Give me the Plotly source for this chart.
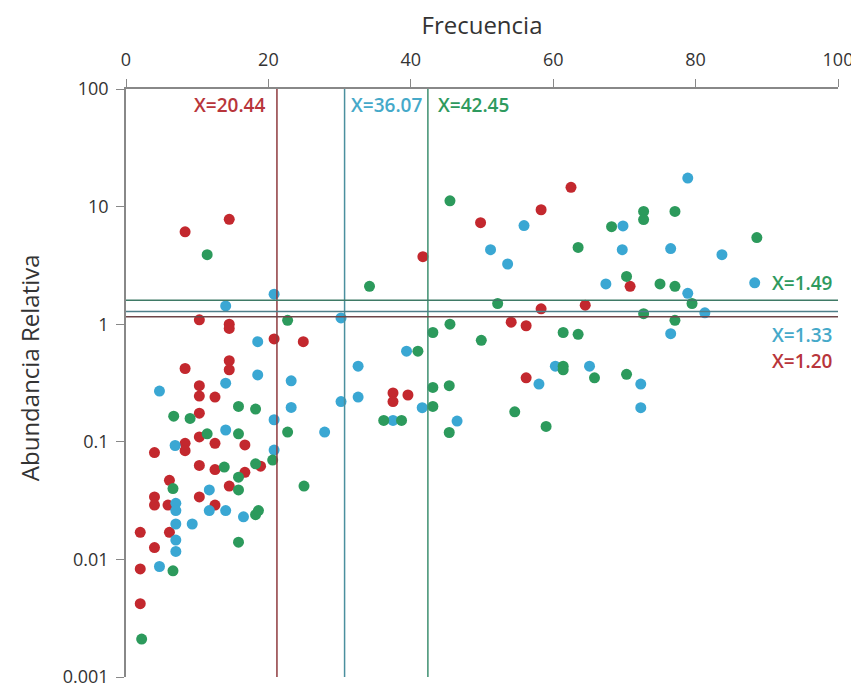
import plotly.graph_objects as go

# Red series
red_x = [8.3, 14.5, 41.7, 10.3, 14.5, 14.5, 20.8, 24.9, 8.3, 14.5, 14.5, 10.3, 10.3, 12.5,
         37.5, 37.5, 39.6, 10.3, 10.3, 12.5, 16.7, 8.3, 8.3, 4.0, 10.3, 12.5, 18.9, 16.7,
         6.1, 14.5, 4.0, 4.0, 10.3, 5.9, 12.5, 2.0, 6.1, 4.0, 2.0, 2.0,
         49.8, 58.3, 62.5, 70.8, 58.3, 64.5, 54.1, 56.2, 56.2]
red_y = [6.1, 7.8, 3.75, 1.09, 1.0, 0.92, 0.75, 0.71, 0.42, 0.49, 0.41, 0.30, 0.245, 0.24,
         0.26, 0.22, 0.25, 0.175, 0.11, 0.097, 0.094, 0.097, 0.084, 0.081, 0.063, 0.058, 0.062, 0.055,
         0.047, 0.042, 0.034, 0.029, 0.034, 0.029, 0.029, 0.017, 0.017, 0.0126, 0.0083, 0.0042,
         7.3, 9.4, 14.6, 2.1, 1.35, 1.45, 1.04, 0.97, 0.35]

# Blue series
blue_x = [20.8, 14.0, 30.2, 18.5, 39.4, 18.5, 32.6, 4.7, 14.0, 23.2, 32.6, 30.2, 41.6, 23.2,
          20.8, 37.5, 27.9, 14.0, 6.9, 20.8, 11.7, 7.0, 7.0, 11.7, 14.0, 16.5, 7.0, 9.3,
          7.0, 7.0, 4.7, 46.5,
          55.9, 78.9, 69.8, 51.2, 69.7, 76.5, 83.7, 53.6, 67.4, 88.3, 78.9, 81.3, 76.5,
          60.3, 65.1, 58.0, 72.3, 72.3]
blue_y = [1.8, 1.43, 1.13, 0.71, 0.59, 0.37, 0.44, 0.27, 0.315, 0.33, 0.24, 0.22, 0.195, 0.196,
          0.154, 0.152, 0.121, 0.126, 0.093, 0.085, 0.039, 0.030, 0.026, 0.026, 0.026, 0.023, 0.020, 0.020,
          0.0146, 0.0117, 0.0087, 0.15,
          6.9, 17.5, 6.85, 4.3, 4.3, 4.4, 3.9, 3.25, 2.2, 2.25, 1.83, 1.25, 0.83,
          0.44, 0.44, 0.31, 0.31, 0.195]

# Green series
green_x = [11.4, 34.2, 22.7, 43.1, 41.0, 43.1, 45.4, 43.1, 45.4, 6.7, 9.0, 15.8, 18.2, 36.2,
           38.7, 22.7, 11.4, 15.8, 20.6, 13.8, 18.2, 15.8, 6.6, 15.8, 25.0, 18.2, 18.6, 15.8,
           6.6, 2.2,
           45.5, 72.7, 72.7, 77.1, 68.2, 63.5, 88.6, 70.3, 75.0, 77.1, 79.5, 52.2, 72.7, 77.1,
           45.5, 49.9, 61.4, 63.5, 61.4, 61.4, 65.8, 70.3, 54.6, 59.0]
green_y = [3.9, 2.1, 1.08, 0.85, 0.59, 0.29, 0.30, 0.20, 0.12, 0.165, 0.158, 0.20, 0.19, 0.152,
           0.152, 0.121, 0.117, 0.117, 0.070, 0.061, 0.065, 0.050, 0.040, 0.039, 0.042, 0.024, 0.026, 0.014,
           0.008, 0.0021,
           11.2, 9.1, 7.75, 9.1, 6.75, 4.5, 5.45, 2.55, 2.2, 2.1, 1.5, 1.5, 1.23, 1.08,
           1.0, 0.73, 0.85, 0.82, 0.44, 0.41, 0.35, 0.375, 0.18, 0.135]

# Threshold lines (as drawn) and their labels
vlines_x = [21.2, 30.7, 42.4]
vline_labels = ["X=20.44", "X=36.07", "X=42.45"]
hlines_y = [1.60, 1.285, 1.156]
hline_labels = ["X=1.49", "X=1.33", "X=1.20"]

RED = "#C3282E"
BLUE = "#3AA7D3"
GREEN = "#2C9A5C"
VLINE_COLORS = ["#8E3A3E", "#4A8F9E", "#3E8F70"]
HLINE_COLORS = ["#3F7A66", "#4F7F8A", "#6E4548"]
LABEL_COLORS = ["#B8353B", "#45A9C9", "#2E9A5E"]

fig = go.Figure()
for xs, ys, c in [(red_x, red_y, RED), (blue_x, blue_y, BLUE), (green_x, green_y, GREEN)]:
    fig.add_trace(go.Scatter(x=xs, y=ys, mode="markers",
                             marker=dict(color=c, size=11, line=dict(width=0)),
                             showlegend=False))

for x, c in zip(vlines_x, VLINE_COLORS):
    fig.add_shape(type="line", xref="x", yref="y", x0=x, x1=x, y0=0.001, y1=100,
                  line=dict(color=c, width=1.5))
for y, c in zip(hlines_y, HLINE_COLORS):
    fig.add_shape(type="line", xref="x", yref="y", x0=0, x1=100, y0=y, y1=y,
                  line=dict(color=c, width=1.5))

FAM = "Open Sans, Lato, sans-serif"
lab_font = dict(family=FAM, size=19, weight=600)
# vertical-line labels (y given in log10 units, as required for log axes)
fig.add_annotation(x=19.8, y=1.865, text=vline_labels[0], showarrow=False, xanchor="right",
                   font=dict(**lab_font, color=LABEL_COLORS[0]))
fig.add_annotation(x=31.3, y=1.865, text=vline_labels[1], showarrow=False, xanchor="left",
                   font=dict(**lab_font, color=LABEL_COLORS[1]))
fig.add_annotation(x=43.5, y=1.865, text=vline_labels[2], showarrow=False, xanchor="left",
                   font=dict(**lab_font, color=LABEL_COLORS[2]))
# horizontal-line labels
fig.add_annotation(x=99.6, y=0.353, text=hline_labels[0], showarrow=False, xanchor="right",
                   font=dict(**lab_font, color=LABEL_COLORS[2]))
fig.add_annotation(x=99.6, y=-0.093, text=hline_labels[1], showarrow=False, xanchor="right",
                   font=dict(**lab_font, color=LABEL_COLORS[1]))
fig.add_annotation(x=99.6, y=-0.312, text=hline_labels[2], showarrow=False, xanchor="right",
                   font=dict(**lab_font, color=LABEL_COLORS[0]))

# y-axis title placed as a rotated annotation
fig.add_annotation(xref="paper", yref="paper", x=-0.136, y=0.5255, text="Abundancia Relativa",
                   textangle=-90, showarrow=False, xanchor="center", yanchor="middle",
                   font=dict(family=FAM, size=24, color="#333"))

axis_font = dict(family=FAM, size=18, color="#333")
fig.update_xaxes(side="top", range=[0, 100], tickvals=[0, 20, 40, 60, 80, 100],
                 showgrid=False, zeroline=False, showline=True, linecolor="#888", linewidth=1.5,
                 ticks="outside", ticklen=8, tickcolor="#888", tickfont=axis_font,
                 ticklabelstandoff=6, automargin=False,
                 title=dict(text="Frecuencia", font=dict(family=FAM, size=24, color="#333"),
                            standoff=19))
fig.update_yaxes(type="log", range=[-3, 2], tickvals=[0.001, 0.01, 0.1, 1, 10, 100],
                 ticktext=["0.001", "0.01", "0.1", "1", "10", "100"],
                 showgrid=False, zeroline=False, showline=True, linecolor="#888", linewidth=1.5,
                 ticks="outside", ticklen=8, tickcolor="#888", tickfont=axis_font,
                 ticklabelstandoff=4, automargin=False)

# margins compensate the 8px page offset of the browser body
fig.update_layout(width=859, height=687, plot_bgcolor="white", paper_bgcolor="white",
                  margin=dict(l=118, r=29, t=81, b=18))

fig.write_html("out.html")
